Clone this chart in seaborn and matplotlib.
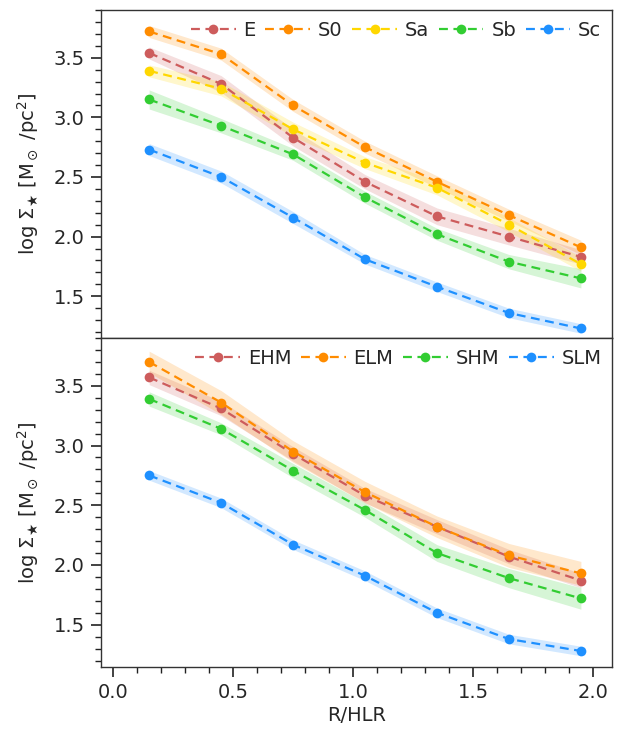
import numpy as np
import pandas as pd
import matplotlib
matplotlib.use("Agg")
import matplotlib.pyplot as plt
from matplotlib.ticker import MultipleLocator
import seaborn as sns

# Radial bins (in units of the half-light radius)
radius = [0.15, 0.45, 0.75, 1.05, 1.35, 1.65, 1.95]

# Morphological types: mean log stellar surface density and band half-width
morph_names = ["E", "S0", "Sa", "Sb", "Sc"]
morph_E = [3.54, 3.28, 2.83, 2.46, 2.17, 2.00, 1.83]
morph_S0 = [3.72, 3.53, 3.10, 2.75, 2.46, 2.18, 1.91]
morph_Sa = [3.39, 3.24, 2.90, 2.62, 2.41, 2.10, 1.77]
morph_Sb = [3.15, 2.93, 2.69, 2.33, 2.02, 1.79, 1.65]
morph_Sc = [2.73, 2.50, 2.16, 1.81, 1.58, 1.36, 1.23]
morph_E_err = [0.05, 0.07, 0.07, 0.06, 0.07, 0.07, 0.06]
morph_S0_err = [0.05, 0.05, 0.05, 0.05, 0.05, 0.05, 0.06]
morph_Sa_err = [0.05, 0.06, 0.06, 0.05, 0.06, 0.06, 0.06]
morph_Sb_err = [0.08, 0.06, 0.05, 0.05, 0.05, 0.06, 0.08]
morph_Sc_err = [0.05, 0.05, 0.05, 0.04, 0.04, 0.04, 0.04]

# Mass groups: early/spiral, high/low mass
mass_names = ["EHM", "ELM", "SHM", "SLM"]
mass_EHM = [3.57, 3.31, 2.93, 2.58, 2.32, 2.07, 1.87]
mass_ELM = [3.70, 3.36, 2.95, 2.61, 2.32, 2.08, 1.93]
mass_SHM = [3.39, 3.14, 2.79, 2.46, 2.10, 1.89, 1.72]
mass_SLM = [2.75, 2.52, 2.17, 1.91, 1.60, 1.38, 1.28]
mass_EHM_err = [0.06, 0.06, 0.06, 0.06, 0.06, 0.06, 0.06]
mass_ELM_err = [0.09, 0.10, 0.09, 0.09, 0.09, 0.10, 0.10]
mass_SHM_err = [0.06, 0.05, 0.06, 0.06, 0.07, 0.08, 0.09]
mass_SLM_err = [0.04, 0.04, 0.04, 0.04, 0.04, 0.04, 0.04]

colors_morph = ["indianred", "darkorange", "gold", "limegreen", "dodgerblue"]
colors_mass = ["indianred", "darkorange", "limegreen", "dodgerblue"]

sns.set_style("ticks")
plt.rcParams["font.family"] = ["DejaVu Sans"]
plt.rcParams["mathtext.fontset"] = "dejavusans"


def long_table(names, values, errors):
    rows = []
    for name, vals, errs in zip(names, values, errors):
        for r, v, e in zip(radius, vals, errs):
            rows.append({"R": r, "y": v, "err": e, "group": name})
    return pd.DataFrame(rows)


df_morph = long_table(
    morph_names,
    [morph_E, morph_S0, morph_Sa, morph_Sb, morph_Sc],
    [morph_E_err, morph_S0_err, morph_Sa_err, morph_Sb_err, morph_Sc_err],
)
df_mass = long_table(
    mass_names,
    [mass_EHM, mass_ELM, mass_SHM, mass_SLM],
    [mass_EHM_err, mass_ELM_err, mass_SHM_err, mass_SLM_err],
)

fig = plt.figure(figsize=(6.17, 7.31), dpi=100)
ax_top = fig.add_axes([0.164, 0.5376, 0.828, 0.4487])
ax_bot = fig.add_axes([0.164, 0.0882, 0.828, 0.4494])

ylabel = "log $\\Sigma_{\u2605}$ [M$_\\odot$ /pc$^2$]"


def draw_panel(ax, df, names, colors):
    palette = dict(zip(names, colors))
    for name in names:
        sub = df[df["group"] == name]
        ax.fill_between(sub["R"], sub["y"] - sub["err"], sub["y"] + sub["err"],
                        color=palette[name], alpha=0.2, linewidth=0)
    sns.lineplot(data=df, x="R", y="y", hue="group", hue_order=names,
                 palette=palette, marker="o", markersize=7, markeredgewidth=0,
                 linestyle="--", linewidth=1.6, ax=ax, legend=True)
    for line in ax.get_lines():
        line.set_dashes((4, 2.5))
    handles, labels = ax.get_legend_handles_labels()
    for h in handles:
        h.set_linestyle("--")
        h.set_dashes((4, 2.5))
        h.set_marker("o")
        h.set_markersize(7)
        h.set_markeredgewidth(0)
    ax.legend(handles, labels, loc="upper right", ncol=len(names), frameon=False,
              fontsize=14, handlelength=2.3, handletextpad=0.4,
              columnspacing=0.5, borderaxespad=0.35, borderpad=0.2)
    ax.set_xlim(-0.05, 2.08)
    ax.set_ylim(1.15, 3.9)
    ax.yaxis.set_major_locator(MultipleLocator(0.5))
    ax.yaxis.set_minor_locator(MultipleLocator(0.1))
    ax.xaxis.set_major_locator(MultipleLocator(0.5))
    ax.xaxis.set_minor_locator(MultipleLocator(0.1))
    ax.tick_params(axis="both", which="major", labelsize=14, length=7,
                   width=1.2, pad=5, color="#222222")
    ax.tick_params(axis="both", which="minor", length=4, width=1.0,
                   color="#222222")
    ax.set_ylabel(ylabel, fontsize=14, labelpad=9)
    for s in ax.spines.values():
        s.set_linewidth(1.0)
        s.set_color("#333333")


draw_panel(ax_top, df_morph, morph_names, colors_morph)
draw_panel(ax_bot, df_mass, mass_names, colors_mass)

ax_top.set_xlabel("")
ax_top.tick_params(axis="x", which="both", bottom=False, labelbottom=False)
ax_bot.set_xlabel("R/HLR", fontsize=14, labelpad=3)

fig.savefig("out.png", dpi=100)
